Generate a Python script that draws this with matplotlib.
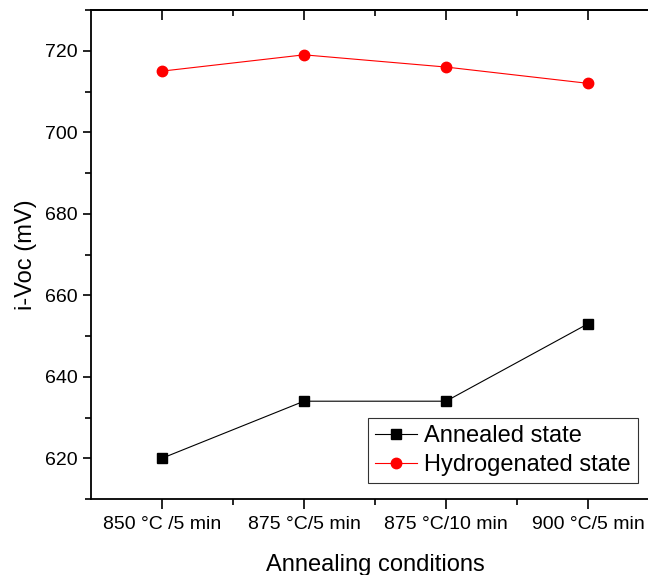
import matplotlib
matplotlib.use("Agg")
import matplotlib.pyplot as plt
from matplotlib.ticker import MultipleLocator, FixedLocator

plt.rcParams['font.family'] = ['Liberation Sans', 'DejaVu Sans']

categories = ["850 °C /5 min", "875 °C/5 min", "875 °C/10 min", "900 °C/5 min"]
annealed = [620, 634, 634, 653]
hydrogenated = [715, 719, 716, 712]

W, H = 648, 575
fig = plt.figure(figsize=(W / 100, H / 100), dpi=100)
left, right, top, bottom = 91, 659, 10, 499
ax = fig.add_axes([left / W, 1 - bottom / H, (right - left) / W, (bottom - top) / H])

x = list(range(len(categories)))
ax.plot(x, annealed, color='black', lw=0.8, marker='s', ms=7.5, label='Annealed state')
ax.plot(x, hydrogenated, color='#ff0000', lw=0.8, marker='o', ms=7.5, label='Hydrogenated state')

ax.set_xlim(-0.5, 3.5)
ax.set_ylim(610, 730)
ax.set_xticks(x)
ax.set_xticklabels(categories, fontsize=14)
ax.xaxis.set_minor_locator(FixedLocator([0.5, 1.5, 2.5]))
ax.yaxis.set_major_locator(MultipleLocator(20))
ax.yaxis.set_minor_locator(MultipleLocator(10))
ax.tick_params(axis='y', which='major', direction='out', length=6, width=1.2, labelsize=14, right=False)
ax.tick_params(axis='y', which='minor', direction='out', length=4, width=1.2, right=False)
ax.tick_params(axis='x', which='major', direction='out', length=7, width=1.2, pad=5)
ax.tick_params(axis='x', which='minor', direction='out', length=4, width=1.2)

sec = ax.secondary_xaxis('top')
sec.set_xticks(x)
sec.xaxis.set_minor_locator(FixedLocator([0.5, 1.5, 2.5]))
sec.tick_params(axis='x', which='major', direction='in', length=7, width=1.2, labeltop=False)
sec.tick_params(axis='x', which='minor', direction='in', length=4, width=1.2)
sec.spines['top'].set_linewidth(1.3)

for s in ax.spines.values():
    s.set_linewidth(1.3)

ax.set_xlabel('Annealing conditions', fontsize=17, labelpad=15)
ax.set_ylabel('i-Voc (mV)', fontsize=17, labelpad=6)

leg = ax.legend(loc='lower right', bbox_to_anchor=(638 / W, 1 - 483 / H),
                bbox_transform=fig.transFigure, fontsize=17, frameon=True,
                fancybox=False, borderaxespad=0, handlelength=1.8,
                borderpad=0.3, labelspacing=0.3, handletextpad=0.3)
leg.get_frame().set_edgecolor('black')
leg.get_frame().set_linewidth(0.8)

fig.savefig('out.png', dpi=100)
